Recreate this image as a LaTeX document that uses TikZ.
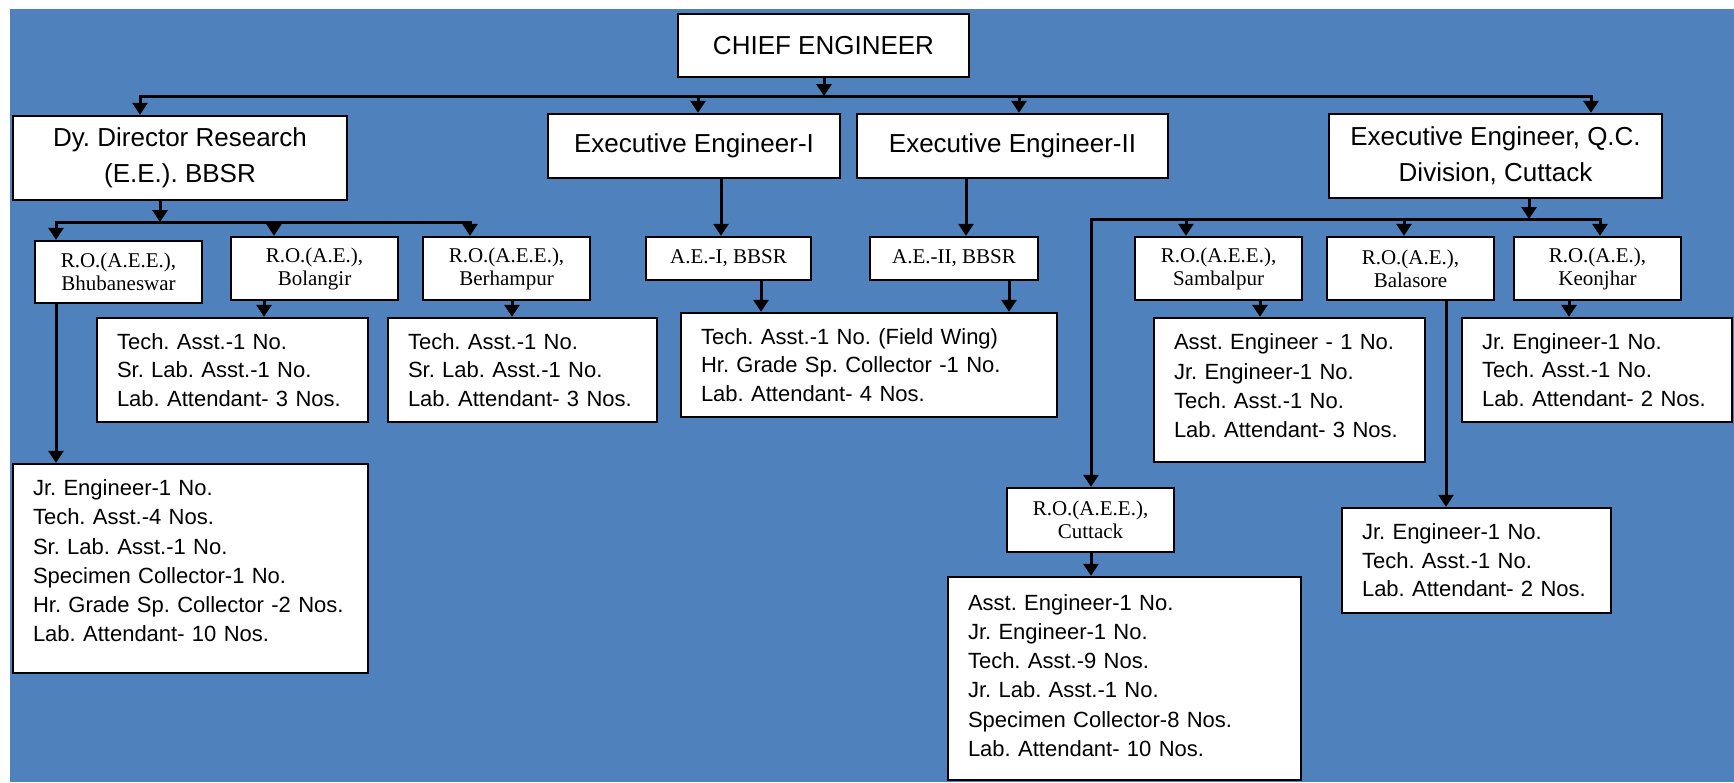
\documentclass[tikz,border=0pt]{standalone}
\usepackage{fontspec}
\setmainfont{Liberation Sans}
\newfontfamily\serifro{Liberation Serif}
\usetikzlibrary{arrows.meta}
\definecolor{bgblue}{HTML}{4F81BD}
\frenchspacing
\begin{document}
\frenchspacing
\begin{tikzpicture}[x=0.5pt,y=-0.5pt,
  box/.style={draw=black,fill=white,line width=1.2pt,inner sep=0pt,align=center},
  big/.style={box,font=\frenchspacing\fontsize{13}{18}\selectfont},
  ro/.style={box,font=\frenchspacing\serifro\fontsize{10.5}{11.5}\selectfont},
  staff/.style={draw=black,fill=white,line width=1.2pt,inner xsep=10pt,inner ysep=0pt,align=left,font=\frenchspacing\fontsize{11}{14.3}\selectfont},
  tallstaff/.style={staff,font=\frenchspacing\fontsize{11}{14.6}\selectfont},
  ln/.style={line width=1.5pt,line cap=rect},
  arr/.style={line width=1.5pt,-{Triangle[width=7.5pt,length=6pt]}}]
\useasboundingbox (0,0) rectangle (1734,782);
\fill[white] (0,0) rectangle (1734,782);
\fill[bgblue] (10,9) rectangle (1734,782);

% top level
\node[big,minimum width=145.5pt,minimum height=31.5pt] (chief) at (823.5,45.5) {CHIEF ENGINEER};
\node[big,minimum width=167pt,minimum height=42pt] (dy) at (180,158) {Dy. Director Research\\(E.E.). BBSR};
\node[big,minimum width=146pt,minimum height=32pt] (ee1) at (694,146) {Executive Engineer-I};
\node[big,minimum width=155.5pt,minimum height=32pt] (ee2) at (1012.5,146) {Executive Engineer-II};
\node[big,minimum width=166.5pt,minimum height=42pt] (eeqc) at (1495.5,156) {Executive Engineer, Q.C.\\Division, Cuttack};

% regional offices
\node[ro,minimum width=83.5pt,minimum height=31pt] (bhu) at (118.5,272) {R.O.(A.E.E.),\\Bhubaneswar};
\node[ro,minimum width=83.5pt,minimum height=31.5pt] (bol) at (314.5,268.5) {R.O.(A.E.),\\Bolangir};
\node[ro,minimum width=83.5pt,minimum height=31.5pt] (ber) at (506.5,268.5) {R.O.(A.E.E.),\\Berhampur};
\node[ro,minimum width=82.5pt,minimum height=21.5pt] (ae1) at (728.5,258.5) {A.E.-I, BBSR};
\node[ro,minimum width=84pt,minimum height=21.5pt] (ae2) at (954,258.5) {A.E.-II, BBSR};
\node[ro,minimum width=83.5pt,minimum height=31.5pt] (sam) at (1218.5,268.5) {R.O.(A.E.E.),\\Sambalpur};
\node[ro,minimum width=83.5pt,minimum height=31.5pt] (bal) at (1410.5,268.5) {R.O.(A.E.),\\Balasore};
\node[ro,minimum width=83.5pt,minimum height=31.5pt] (keo) at (1597.5,268.5) {R.O.(A.E.),\\Keonjhar};
\node[ro,minimum width=83.5pt,minimum height=32pt] (cut) at (1090.5,520) {R.O.(A.E.E.),\\Cuttack};

% staff boxes
\node[staff,text width=115.5pt,minimum height=52pt] (bolstaff) at (232.5,370)
  {Tech. Asst.-1 No.\\Sr. Lab. Asst.-1 No.\\Lab. Attendant- 3 Nos.};
\node[staff,text width=114.5pt,minimum height=52pt] (berstaff) at (522.5,370)
  {Tech. Asst.-1 No.\\Sr. Lab. Asst.-1 No.\\Lab. Attendant- 3 Nos.};
\node[tallstaff,text width=157.5pt,minimum height=104.5pt,text depth=80.7pt] (bhustaff) at (190.5,568.5)
  {Jr. Engineer-1 No.\\Tech. Asst.-4 Nos.\\Sr. Lab. Asst.-1 No.\\Specimen Collector-1 No.\\Hr. Grade Sp. Collector -2 Nos.\\Lab. Attendant- 10 Nos.};
\node[staff,text width=168pt,minimum height=52pt] (fieldstaff) at (869,365)
  {Tech. Asst.-1 No. (Field Wing)\\Hr. Grade Sp. Collector -1 No.\\Lab. Attendant- 4 Nos.};
\node[tallstaff,text width=115.5pt,minimum height=72pt,text depth=48pt] (samstaff) at (1289.5,390)
  {Asst. Engineer - 1 No.\\Jr. Engineer-1 No.\\Tech. Asst.-1 No.\\Lab. Attendant- 3 Nos.};
\node[staff,text width=115pt,minimum height=52pt] (keostaff) at (1597,370)
  {Jr. Engineer-1 No.\\Tech. Asst.-1 No.\\Lab. Attendant- 2 Nos.};
\node[staff,text width=114.5pt,minimum height=52.5pt] (balstaff) at (1476.5,560.5)
  {Jr. Engineer-1 No.\\Tech. Asst.-1 No.\\Lab. Attendant- 2 Nos.};
\node[tallstaff,text width=156.5pt,minimum height=101.5pt,text depth=76.2pt] (cutstaff) at (1124.5,678.5)
  {Asst. Engineer-1 No.\\Jr. Engineer-1 No.\\Tech. Asst.-9 Nos.\\Jr. Lab. Asst.-1 No.\\Specimen Collector-8 Nos.\\Lab. Attendant- 10 Nos.};

% main bus
\coordinate (cb) at (824,96);
\coordinate (bL) at (140,96);
\coordinate (bR) at (1591,96);
\coordinate (b2) at (698,96);
\coordinate (b3) at (1019,96);
\draw[arr] (chief.south -| cb) -- (cb);
\draw[ln] (bL) -- (bR);
\draw[arr] (bL) -- (dy.north -| bL);
\draw[arr] (b2) -- (ee1.north -| b2);
\draw[arr] (b3) -- (ee2.north -| b3);
\draw[arr] (bR) -- (eeqc.north -| bR);

% Dy. Director branch
\coordinate (d0) at (160,222);
\coordinate (d1) at (56,222);
\coordinate (d2) at (274,222);
\coordinate (d3) at (470,222);
\draw[arr] (dy.south -| d0) -- (d0);
\draw[ln] (d1) -- (d3);
\draw[arr] (d1) -- (bhu.north -| d1);
\draw[arr] (d2) -- (bol.north -| d2);
\draw[arr] (d3) -- (ber.north -| d3);
\draw[arr] (bhu.south -| d1) -- (bhustaff.north -| d1);
\coordinate (p1) at (264,310);
\draw[arr] (bol.south -| p1) -- (bolstaff.north -| p1);
\coordinate (p2) at (512,310);
\draw[arr] (ber.south -| p2) -- (berstaff.north -| p2);

% EE-I and EE-II branches
\coordinate (p3) at (721,200);
\draw[arr] (ee1.south -| p3) -- (ae1.north -| p3);
\coordinate (p4) at (966,200);
\draw[arr] (ee2.south -| p4) -- (ae2.north -| p4);
\coordinate (p5) at (761,300);
\draw[arr] (ae1.south -| p5) -- (fieldstaff.north -| p5);
\coordinate (p6) at (1009,300);
\draw[arr] (ae2.south -| p6) -- (fieldstaff.north -| p6);

% Q.C. Division branch
\coordinate (q0) at (1529,219);
\coordinate (q1) at (1091,219);
\coordinate (q2) at (1186,219);
\coordinate (q3) at (1404,219);
\coordinate (q4) at (1600,219);
\draw[arr] (eeqc.south -| q0) -- (q0);
\draw[ln] (q1) -- (q4);
\draw[arr] (q1) -- (cut.north -| q1);
\draw[arr] (q2) -- (sam.north -| q2);
\draw[arr] (q3) -- (bal.north -| q3);
\draw[arr] (q4) -- (keo.north -| q4);
\coordinate (p7) at (1260,310);
\draw[arr] (sam.south -| p7) -- (samstaff.north -| p7);
\coordinate (p8) at (1446,400);
\draw[arr] (bal.south -| p8) -- (balstaff.north -| p8);
\coordinate (p9) at (1569,310);
\draw[arr] (keo.south -| p9) -- (keostaff.north -| p9);
\coordinate (p10) at (1091,560);
\draw[arr] (cut.south -| p10) -- (cutstaff.north -| p10);
\end{tikzpicture}
\end{document}
